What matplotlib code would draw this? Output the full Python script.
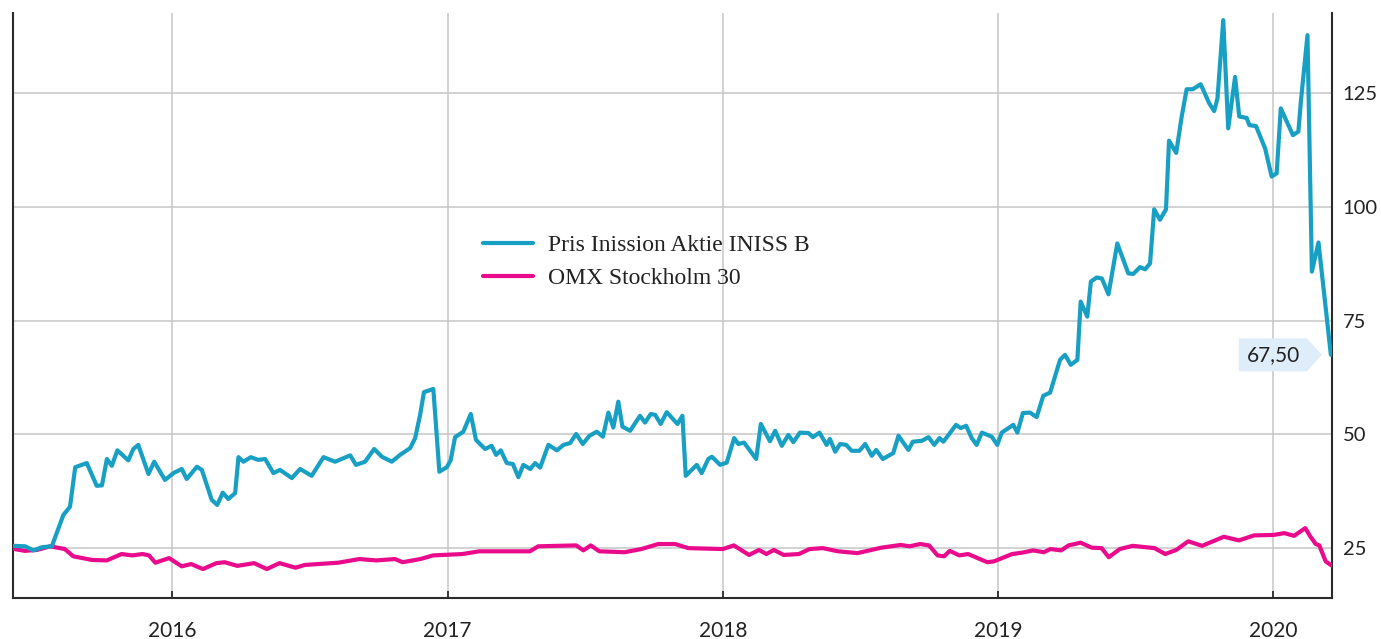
import matplotlib
matplotlib.use("Agg")
import matplotlib.pyplot as plt
from matplotlib.patches import Polygon
from matplotlib.transforms import IdentityTransform

# ---- data (x in decimal years) ----
inission_x = [
    2015.422, 2015.465, 2015.495, 2015.526, 2015.562, 2015.604, 2015.628, 2015.647, 2015.689, 2015.725,
    2015.744, 2015.762, 2015.780, 2015.800, 2015.840, 2015.858, 2015.876, 2015.913, 2015.934, 2015.973,
    2016.004, 2016.034, 2016.052, 2016.089, 2016.107, 2016.143, 2016.163, 2016.183, 2016.203, 2016.228,
    2016.240, 2016.258, 2016.285, 2016.312, 2016.337, 2016.367, 2016.391, 2016.434, 2016.464, 2016.506,
    2016.549, 2016.591, 2016.646, 2016.667, 2016.700, 2016.733, 2016.761, 2016.797, 2016.827, 2016.864,
    2016.882, 2016.900, 2016.914, 2016.948, 2016.970, 2016.997, 2017.011, 2017.027, 2017.057, 2017.084,
    2017.103, 2017.136, 2017.160, 2017.176, 2017.193, 2017.215, 2017.237, 2017.257, 2017.275, 2017.300,
    2017.318, 2017.336, 2017.366, 2017.397, 2017.421, 2017.445, 2017.467, 2017.491, 2017.515, 2017.542,
    2017.564, 2017.584, 2017.602, 2017.620, 2017.635, 2017.663, 2017.699, 2017.717, 2017.738, 2017.754,
    2017.774, 2017.796, 2017.835, 2017.853, 2017.865, 2017.905, 2017.923, 2017.947, 2017.960, 2017.990,
    2018.014, 2018.041, 2018.056, 2018.077, 2018.121, 2018.138, 2018.171, 2018.190, 2018.214, 2018.238,
    2018.256, 2018.280, 2018.311, 2018.327, 2018.351, 2018.377, 2018.389, 2018.408, 2018.426, 2018.448,
    2018.468, 2018.496, 2018.517, 2018.541, 2018.557, 2018.581, 2018.607, 2018.619, 2018.638, 2018.674,
    2018.690, 2018.723, 2018.747, 2018.768, 2018.787, 2018.801, 2018.825, 2018.847, 2018.864, 2018.884,
    2018.904, 2018.922, 2018.941, 2018.977, 2018.997, 2019.013, 2019.055, 2019.070, 2019.090, 2019.116,
    2019.140, 2019.164, 2019.189, 2019.225, 2019.243, 2019.264, 2019.288, 2019.300, 2019.324, 2019.337,
    2019.358, 2019.377, 2019.401, 2019.433, 2019.473, 2019.491, 2019.516, 2019.534, 2019.552, 2019.567,
    2019.588, 2019.610, 2019.621, 2019.647, 2019.667, 2019.685, 2019.707, 2019.736, 2019.767, 2019.785,
    2019.797, 2019.818, 2019.836, 2019.861, 2019.876, 2019.903, 2019.913, 2019.937, 2019.970, 2019.994,
    2020.012, 2020.027, 2020.071, 2020.091, 2020.100, 2020.124, 2020.140, 2020.164, 2020.209,
]
inission_y = [
    25.5, 25.4, 24.5, 25.2, 25.4, 32.3, 34.1, 42.8, 43.7, 38.7,
    38.8, 44.6, 43.1, 46.5, 44.3, 46.8, 47.7, 41.3, 44.0, 40.0,
    41.5, 42.4, 40.2, 42.9, 42.2, 35.6, 34.5, 37.2, 35.8, 37.1,
    45.0, 44.0, 45.0, 44.4, 44.6, 41.5, 42.2, 40.4, 42.4, 40.9,
    45.0, 44.0, 45.4, 43.3, 44.0, 46.8, 45.1, 44.0, 45.5, 47.0,
    49.2, 54.3, 59.3, 60.0, 41.8, 42.8, 44.3, 49.4, 50.6, 54.5,
    48.8, 46.8, 47.5, 45.5, 46.5, 43.7, 43.5, 40.6, 43.3, 42.4,
    43.7, 42.7, 47.7, 46.5, 47.7, 48.1, 50.1, 47.9, 49.7, 50.6,
    49.5, 54.8, 51.5, 57.2, 51.7, 50.8, 54.1, 52.6, 54.5, 54.3,
    52.3, 54.9, 52.3, 54.1, 40.9, 43.3, 41.5, 44.6, 45.1, 43.3,
    43.8, 49.2, 47.9, 48.2, 44.6, 52.3, 48.5, 50.8, 47.5, 49.9,
    48.3, 50.4, 50.3, 49.4, 50.4, 47.7, 49.0, 46.2, 47.9, 47.7,
    46.4, 46.4, 47.9, 45.3, 46.6, 44.6, 45.5, 45.9, 49.7, 46.6,
    48.4, 48.6, 49.4, 47.7, 49.2, 48.4, 50.3, 52.1, 51.4, 51.9,
    49.2, 47.7, 50.4, 49.5, 47.7, 50.4, 52.1, 50.4, 54.7, 54.8,
    53.8, 58.5, 59.2, 66.4, 67.5, 65.3, 66.4, 79.2, 75.9, 83.6,
    84.5, 84.3, 80.8, 92.0, 85.4, 85.3, 86.8, 86.3, 87.6, 99.5,
    97.2, 99.5, 114.6, 111.9, 119.9, 125.9, 125.9, 127.0, 122.8, 121.1,
    123.9, 141.1, 117.3, 128.6, 119.9, 119.6, 118.0, 117.8, 112.9, 106.7,
    107.4, 121.7, 115.8, 116.6, 123.2, 137.8, 85.8, 92.2, 67.5,
]

omx_x = [
    2015.426, 2015.464, 2015.508, 2015.556, 2015.609, 2015.640, 2015.708, 2015.762, 2015.815, 2015.854,
    2015.892, 2015.915, 2015.938, 2015.988, 2016.034, 2016.068, 2016.111, 2016.160, 2016.190, 2016.236,
    2016.297, 2016.343, 2016.389, 2016.447, 2016.481, 2016.603, 2016.679, 2016.741, 2016.809, 2016.836,
    2016.901, 2016.947, 2017.054, 2017.115, 2017.299, 2017.329, 2017.467, 2017.493, 2017.520, 2017.551,
    2017.643, 2017.704, 2017.765, 2017.827, 2017.874, 2018.000, 2018.040, 2018.095, 2018.131, 2018.158,
    2018.185, 2018.221, 2018.276, 2018.315, 2018.363, 2018.418, 2018.489, 2018.576, 2018.646, 2018.678,
    2018.717, 2018.749, 2018.780, 2018.804, 2018.824, 2018.859, 2018.891, 2018.961, 2018.985, 2019.051,
    2019.087, 2019.127, 2019.166, 2019.190, 2019.229, 2019.256, 2019.300, 2019.340, 2019.376, 2019.402,
    2019.442, 2019.489, 2019.568, 2019.607, 2019.647, 2019.691, 2019.741, 2019.820, 2019.875, 2019.930,
    2020.001, 2020.040, 2020.075, 2020.116, 2020.135, 2020.154, 2020.167, 2020.190, 2020.211,
]
omx_y = [
    24.8, 24.4, 24.6, 25.4, 24.8, 23.2, 22.4, 22.3, 23.7, 23.4,
    23.7, 23.4, 21.8, 22.8, 21.0, 21.5, 20.4, 21.7, 21.9, 21.1,
    21.7, 20.4, 21.7, 20.7, 21.3, 21.8, 22.6, 22.3, 22.6, 21.9,
    22.6, 23.4, 23.7, 24.3, 24.3, 25.4, 25.6, 24.5, 25.6, 24.3,
    24.1, 24.8, 25.9, 25.9, 25.0, 24.8, 25.6, 23.5, 24.6, 23.7,
    24.6, 23.5, 23.7, 24.8, 25.0, 24.3, 23.9, 25.1, 25.7, 25.4,
    25.9, 25.6, 23.4, 23.2, 24.4, 23.4, 23.7, 21.9, 22.1, 23.7,
    24.0, 24.5, 24.1, 24.8, 24.5, 25.6, 26.2, 25.1, 25.0, 23.0,
    24.8, 25.5, 25.0, 23.7, 24.6, 26.5, 25.5, 27.5, 26.7, 27.8,
    27.9, 28.3, 27.7, 29.4, 27.5, 25.9, 25.6, 22.1, 21.2,
]

series_labels = ["Pris Inission Aktie INISS B", "OMX Stockholm 30"]
year_ticks = [2016, 2017, 2018, 2019, 2020]
year_labels = ["2016", "2017", "2018", "2019", "2020"]
value_ticks = [25, 50, 75, 100, 125]
value_labels = ["25", "50", "75", "100", "125"]
last_label = "67,50"

BLUE = "#189fc4"
PINK = "#ea0a8c"
GRID = "#c6c6c6"
SPINE = "#2b2b2b"
TEXT = "#222222"

plt.rcParams["font.family"] = ["Lato", "DejaVu Sans"]

fig = plt.figure(figsize=(13.81, 6.39), dpi=100)
ax = fig.add_axes([13.3 / 1381, 1 - 597.7 / 639, (1331.7 - 13.3) / 1381, (597.7 - 13.3) / 639])

ax.plot(omx_x, omx_y, color=PINK, lw=3.0, solid_joinstyle="round", solid_capstyle="round",
        zorder=3, label=series_labels[1])
ax.plot(inission_x, inission_y, color=BLUE, lw=3.0, solid_joinstyle="round", solid_capstyle="round",
        zorder=4, label=series_labels[0])

ax.set_xlim(2015.422, 2020.212)
ax.set_ylim(14.1, 142.6)

ax.set_xticks(year_ticks)
ax.set_xticklabels(year_labels)
ax.yaxis.tick_right()
ax.set_yticks(value_ticks)
ax.set_yticklabels(value_labels)

ax.grid(True, color=GRID, lw=1.1, zorder=0)
ax.set_axisbelow(True)

for s in ["left", "bottom", "right"]:
    ax.spines[s].set_color(SPINE)
    ax.spines[s].set_linewidth(1.5)
ax.spines["top"].set_visible(False)

ax.tick_params(axis="x", direction="in", length=5, width=1.3, color=SPINE, pad=17,
               labelsize=15, labelcolor=TEXT)
ax.tick_params(axis="y", length=0, pad=8, labelsize=14.5, labelcolor=TEXT)

handles, labels = ax.get_legend_handles_labels()
leg = ax.legend(handles[::-1], labels[::-1], loc="center left",
                bbox_to_anchor=((483 - 13.3) / 1318.4, (597.7 - 262) / 584.4),
                frameon=False, borderpad=0, borderaxespad=0,
                handlelength=2.1, handletextpad=0.65, labelspacing=0.48,
                prop={"family": ["Liberation Serif"], "size": 17})
for t in leg.get_texts():
    t.set_color(TEXT)

# end-value tag
px, py = ax.transData.transform((inission_x[-1], inission_y[-1]))
tag = [(px - 92, py - 16.5), (px - 24, py - 16.5), (px - 9, py), (px - 24, py + 16.5), (px - 92, py + 16.5)]
fig.patches.append(Polygon(tag, closed=True, transform=IdentityTransform(),
                           facecolor="#deedf9", edgecolor="none", zorder=5))
fig.text((px - 57) / fig.bbox.width, py / fig.bbox.height, last_label,
         ha="center", va="center", fontsize=15, color=TEXT, zorder=6)

fig.savefig("out.png", dpi=100)
